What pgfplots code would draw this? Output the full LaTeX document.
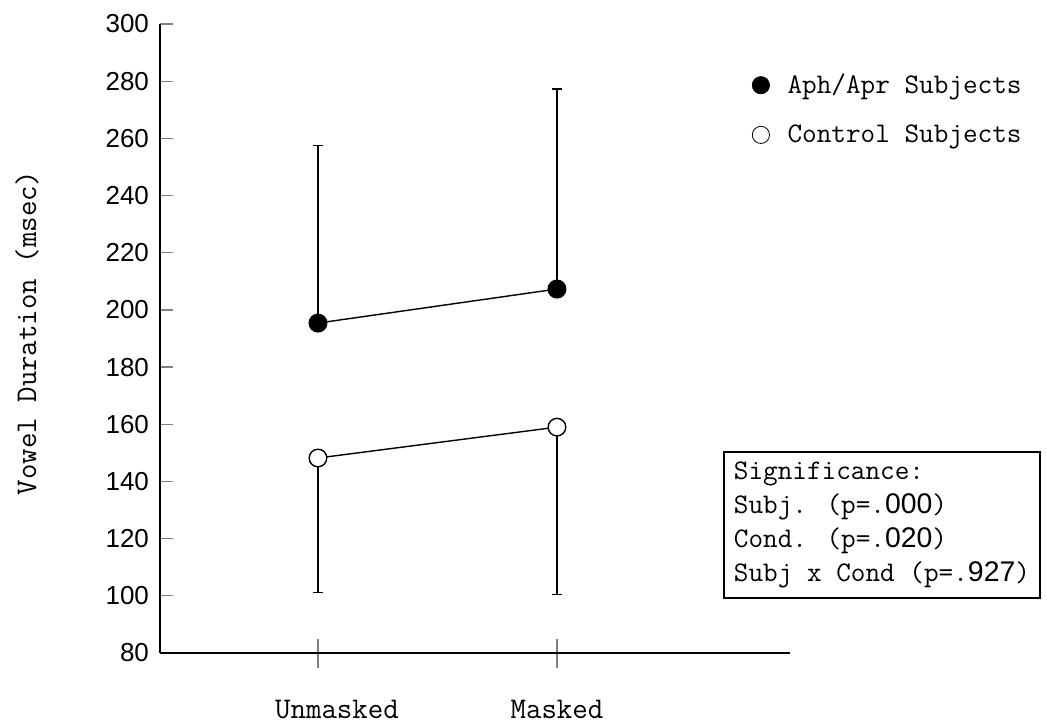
\documentclass[border=0pt]{standalone}
\usepackage{pgfplots}
\pgfplotsset{compat=1.18}
\usepackage{fontspec}
\newfontfamily\numf{Liberation Sans}
\begin{document}
\begin{tikzpicture}
\useasboundingbox (-80pt,-35.5pt) rectangle (443.5pt,326.5pt);
\begin{axis}[
  at={(0pt,0pt)}, anchor=south west,
  scale only axis, width=315pt, height=314.5pt,
  xmin=0.339, xmax=2.975, ymin=80, ymax=300,
  axis x line*=bottom, axis y line*=left,
  axis line style={-, line width=0.7pt},
  xtick={1,2}, xticklabels={\hspace*{19pt}Unmasked,Masked},
  ytick={80,100,...,300},
  major tick length=6.5pt,
  ytick align=inside, xtick align=center,
  xtick style={/pgfplots/major tick length=14.5pt, line width=0.6pt},
  ytick style={line width=0.6pt},
  /pgf/number format/assume math mode=true,
  yticklabel style={font=\numf\fontsize{13}{15}\selectfont, xshift=-2pt},
  xticklabel style={font=\ttfamily\fontsize{15}{17}\selectfont, yshift=-17pt},
  ylabel={Vowel Duration (msec)},
  ylabel style={font=\ttfamily\fontsize{15}{17}\selectfont, at={(axis description cs:-0.211,0.509)}, anchor=center},
  clip=false,
  legend style={draw=none, fill=none, at={(axis description cs:0.93,0.864)}, anchor=west,
    font=\ttfamily\fontsize{14.2}{16}\selectfont, row sep=10pt, column sep=7pt},
  legend cell align=left,
]
\addlegendimage{only marks, mark=*, mark size=4.3pt, black}
\addlegendentry{Aph/Apr Subjects}
\addlegendimage{only marks, mark=o, mark size=4.3pt, black}
\addlegendentry{Control Subjects}

\addplot[black, line width=0.7pt, mark=*, mark size=4.4pt, forget plot,
  error bars/.cd, y dir=plus, y explicit, error mark=|,
  error bar style={line width=0.6pt},
  error mark options={mark size=2.5pt, line width=0.6pt}]
  table[x=x, y=y, y error=e] {
x y e
1 195.4 62.1
2 207.3 70.0
};
\addplot[black, line width=0.7pt, mark=*, mark options={fill=white}, mark size=4.4pt, forget plot,
  error bars/.cd, y dir=minus, y explicit, error mark=|,
  error bar style={line width=0.6pt},
  error mark options={mark size=2.5pt, line width=0.6pt}]
  table[x=x, y=y, y error=e] {
x y e
1 148.2 46.9
2 159.0 58.4
};
\node[draw, line width=0.6pt, align=left, inner sep=5pt, font=\ttfamily\fontsize{14.2}{17}\selectfont]
  at (axis description cs:1.146,0.2035)
  {Significance:\\Subj. (p=.{\numf 000})\\Cond. (p=.{\numf 020})\\Subj x Cond (p=.{\numf 927})};
\end{axis}
\end{tikzpicture}
\end{document}
